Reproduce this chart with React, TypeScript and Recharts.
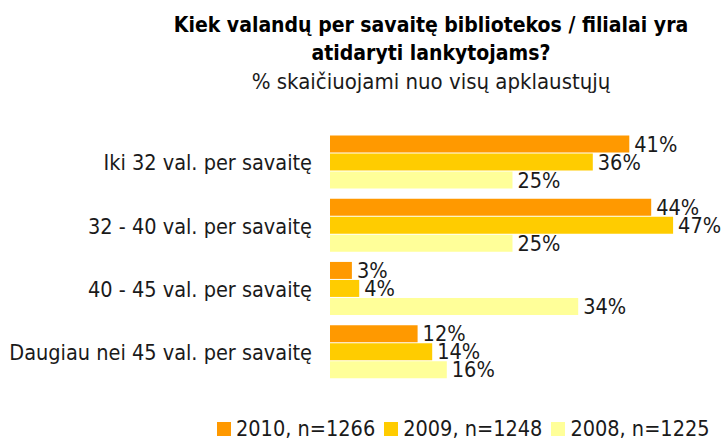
import { BarChart, Bar, XAxis, YAxis, LabelList, Legend } from 'recharts';

const categories = [
  'Iki 32 val. per savaitę',
  '32 - 40 val. per savaitę',
  '40 - 45 val. per savaitę',
  'Daugiau nei 45 val. per savaitę',
];
const values2010 = [41, 44, 3, 12];
const values2009 = [36, 47, 4, 14];
const values2008 = [25, 25, 34, 16];
const seriesNames = ['2010, n=1266', '2009, n=1248', '2008, n=1225'];
const seriesColors = ['#FF9900', '#FFCC00', '#FFFF99'];
const boundaryTicks = [0, 1, 2, 3, 4];

const data = categories.map((name, i) => ({
  name,
  y2010: values2010[i],
  y2009: values2009[i],
  y2008: values2008[i],
}));

const FONT = "'DejaVu Sans Condensed', 'DejaVu Sans', sans-serif";
const TEXT = '#1a1a1a';
const FS = 21.5;

// vertical layout hands the legend payload over bottom-up, so flip it back
const renderLegend = (props: any) => {
  const payload = [...(props.payload || [])].reverse();
  return (
    <div style={{ display: 'flex', justifyContent: 'flex-start', height: 20, alignItems: 'center' }}>
      {payload.map((p: any) => (
        <span key={p.value} style={{ display: 'flex', alignItems: 'center', marginRight: 9 }}>
          <span style={{ width: 14, height: 14, background: p.color, marginRight: 5 }} />
          <span style={{ fontFamily: FONT, fontSize: FS, color: TEXT, lineHeight: '20px' }}>{p.value}</span>
        </span>
      ))}
    </div>
  );
};

const pct = (v: any) => `${v}%`;

export default function App() {
  return (
    <div style={{ position: 'absolute', left: 0, top: 0, width: 723, height: 440, background: '#fff' }}>
      <svg width={723} height={100} style={{ position: 'absolute', left: 0, top: 0 }}>
        <text x={431} y={32} textAnchor="middle" fontFamily={FONT} fontWeight="bold" fontSize={21} fill="#000">
          Kiek valandų per savaitę bibliotekos / filialai yra
        </text>
        <text x={431} y={60} textAnchor="middle" fontFamily={FONT} fontWeight="bold" fontSize={21} fill="#000">
          atidaryti lankytojams?
        </text>
        <text x={431} y={89} textAnchor="middle" fontFamily={FONT} fontSize={22} fill={TEXT}>
          % skaičiuojami nuo visų apklaustųjų
        </text>
      </svg>
      <BarChart
        width={723}
        height={440}
        data={data}
        layout="vertical"
        margin={{ top: 131, right: 28, left: 0, bottom: 36 }}
        barCategoryGap="7%"
        barGap={1}
        style={{ position: 'absolute', left: 0, top: 0 }}
      >
        <XAxis type="number" domain={[0, 50]} hide />
        <YAxis
          yAxisId="bounds"
          type="number"
          domain={[0, 4]}
          ticks={boundaryTicks}
          width={0}
          tick={false}
          tickSize={7}
          stroke="#333"
          axisLine={{ stroke: '#333' }}
          tickLine={{ stroke: '#333' }}
        />
        <YAxis
          yAxisId="cat"
          type="category"
          dataKey="name"
          width={330}
          axisLine={false}
          tickLine={false}
          tickSize={0}
          tickMargin={18}
          tick={{ fontFamily: FONT, fontSize: FS, fill: TEXT }}
        />
        <Legend
          verticalAlign="bottom"
          content={renderLegend}
          wrapperStyle={{ top: 419, bottom: 'auto', left: 217, width: 506 }}
        />
        <Bar yAxisId="cat" dataKey="y2010" name={seriesNames[0]} fill={seriesColors[0]} isAnimationActive={false}>
          <LabelList dataKey="y2010" position="right" offset={5} formatter={pct} fill={TEXT} fontFamily={FONT} fontSize={FS} />
        </Bar>
        <Bar yAxisId="cat" dataKey="y2009" name={seriesNames[1]} fill={seriesColors[1]} isAnimationActive={false}>
          <LabelList dataKey="y2009" position="right" offset={5} formatter={pct} fill={TEXT} fontFamily={FONT} fontSize={FS} />
        </Bar>
        <Bar yAxisId="cat" dataKey="y2008" name={seriesNames[2]} fill={seriesColors[2]} isAnimationActive={false}>
          <LabelList dataKey="y2008" position="right" offset={5} formatter={pct} fill={TEXT} fontFamily={FONT} fontSize={FS} />
        </Bar>
      </BarChart>
    </div>
  );
}
